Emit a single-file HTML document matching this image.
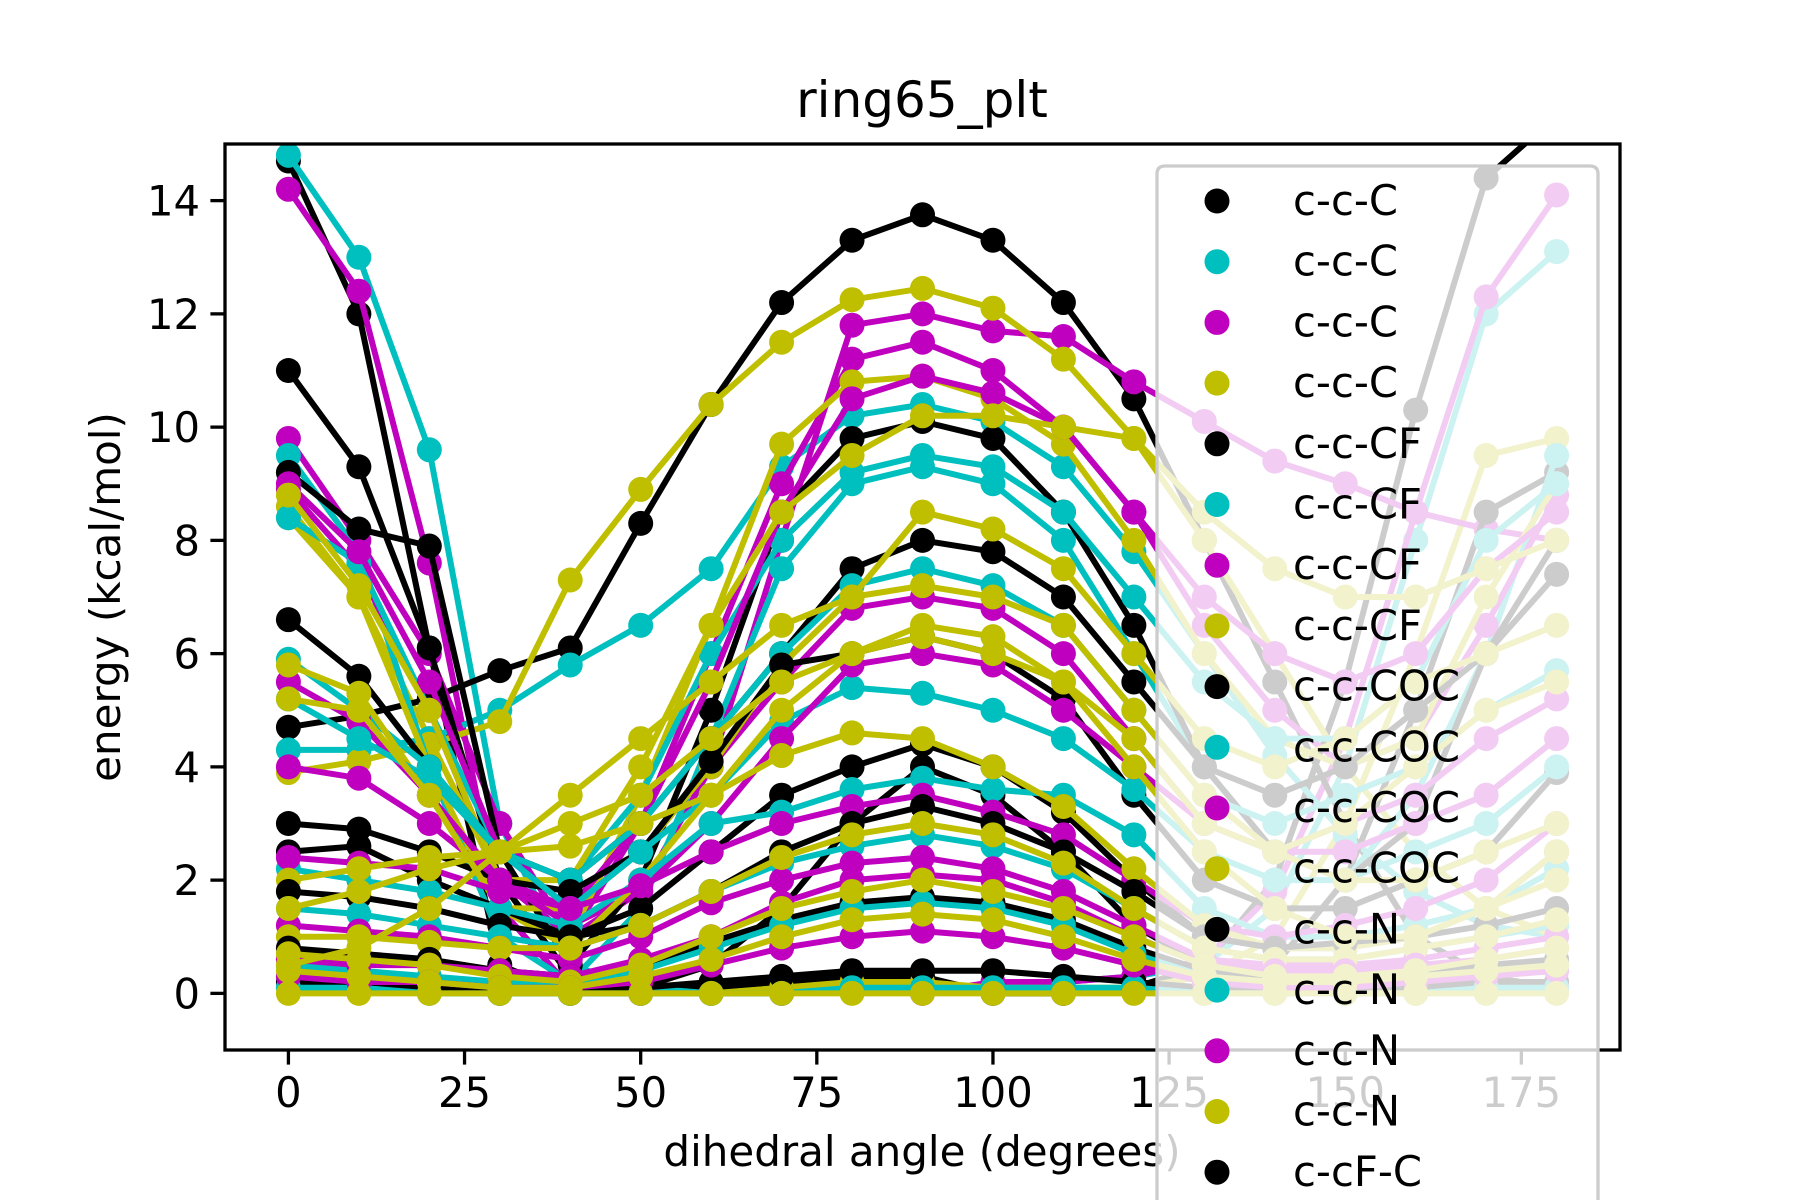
<!DOCTYPE html>
<html><head><meta charset="utf-8"><style>
html,body{margin:0;padding:0;background:#fff;width:1800px;height:1200px;overflow:hidden;}
svg{display:block;font-family:"DejaVu Sans","Liberation Sans",sans-serif;}
</style></head><body>
<svg id="chart" width="1800" height="1200" viewBox="0 0 1800 1200" xmlns="http://www.w3.org/2000/svg">
<rect width="1800" height="1200" fill="#fff"/>
<defs><clipPath id="plotclip"><rect x="225" y="144" width="1395" height="906"/></clipPath></defs>
<text x="922" y="117" font-size="50" text-anchor="middle">ring65_plt</text>
<g id="series" clip-path="url(#plotclip)"></g>
<g id="axes"></g>
<text x="922" y="1166" font-size="42" text-anchor="middle">dihedral angle (degrees)</text>
<text x="0" y="0" font-size="42" text-anchor="middle" transform="translate(120,597) rotate(-90)">energy (kcal/mol)</text>
<g id="legend"></g>
</svg>
<script>
const angles = [0,10,20,30,40,50,60,70,80,90,100,110,120,130,140,150,160,170,180];
const xTicks = [0,25,50,75,100,125,150,175];
const yTicks = [0,2,4,6,8,10,12,14];
const legendLabels = ["c-c-C","c-c-C","c-c-C","c-c-C","c-c-CF","c-c-CF","c-c-CF","c-c-CF","c-c-COC","c-c-COC","c-c-COC","c-c-COC","c-c-N","c-c-N","c-c-N","c-c-N","c-cF-C"];
const legendColors = ["#000","#00bfbf","#bf00bf","#bfbf00","#000","#00bfbf","#bf00bf","#bfbf00","#000","#00bfbf","#bf00bf","#bfbf00","#000","#00bfbf","#bf00bf","#bfbf00","#000"];
const seriesColors = ["#000","#00bfbf","#bf00bf","#bfbf00"];
const k1 = [14.7,12.0,6.1,0.5,0.0,0.0,0.1,0.2,0.3,0.3,0.0,0.0,0.1,0.5,2.0,5.5,10.3,14.4,15.5];
const c1 = [14.8,13.0,9.6,3.0,0.5,0.1,0.0,0.0,0.1,0.1,0.1,0.2,0.3,0.5,1.5,4.0,8.0,12.0,13.1];
const m1 = [14.2,12.4,7.6,1.5,0.1,0.0,0.0,0.0,0.1,0.0,0.2,0.2,0.3,0.6,1.8,4.5,8.5,12.3,14.1];
const y1 = [8.6,7.0,4.5,2.0,0.3,0.0,0.0,0.1,0.2,0.2,0.1,0.1,0.1,0.3,1.0,3.0,6.0,9.5,9.8];
const k2 = [4.7,4.9,5.2,5.7,6.1,8.3,10.4,12.2,13.3,13.75,13.3,12.2,10.5,8.0,5.5,3.0,1.0,0.3,0.1];
const c2 = [4.3,4.3,4.5,5.0,5.8,6.5,7.5,9.3,10.2,10.4,10.1,9.3,7.8,6.0,4.2,2.8,1.8,1.2,1.0];
const m2 = [9.8,8.0,6.0,3.0,1.0,1.8,4.0,8.0,11.8,12.0,11.7,11.6,10.8,10.1,9.4,9.0,8.5,8.2,8.0];
const y2 = [3.9,4.1,4.4,4.8,7.3,8.9,10.4,11.5,12.25,12.45,12.1,11.2,9.8,8.0,6.0,4.0,2.5,1.5,1.0];
const k3 = [11.0,9.3,6.1,2.0,0.3,0.1,0.5,1.5,3.0,4.0,3.5,2.5,1.2,0.5,0.5,2.0,5.0,8.5,9.2];
const c3 = [9.5,7.8,4.0,1.0,0.2,1.5,4.5,7.5,9.0,9.3,9.0,8.0,6.0,4.0,2.5,2.0,3.5,6.0,9.5];
const m3 = [8.9,7.5,5.0,2.0,1.0,3.0,6.0,9.0,11.2,11.5,11.0,10.0,8.5,6.5,5.0,4.0,4.5,6.5,8.8];
const y3 = [8.4,7.0,4.0,1.5,1.0,3.5,6.5,9.7,10.8,10.9,10.5,9.7,8.0,6.0,4.5,4.0,4.5,7.0,9.0];
const k4 = [9.2,8.2,7.9,2.5,0.5,2.0,5.0,8.5,9.8,10.1,9.8,8.5,6.5,4.0,2.5,2.0,3.0,6.0,8.0];
const c4 = [8.4,7.6,5.0,2.5,2.0,3.5,6.0,8.0,9.2,9.5,9.3,8.5,7.0,5.5,4.5,4.5,5.5,8.0,9.0];
const m4 = [9.0,7.8,5.5,2.5,1.5,3.0,5.5,8.5,10.5,10.9,10.6,10.0,8.5,7.0,6.0,5.5,6.0,7.5,8.5];
const y4 = [8.8,7.2,5.0,2.0,2.0,4.0,6.5,8.5,9.5,10.2,10.2,10.0,9.8,8.5,7.5,7.0,7.0,7.5,8.0];
const k5 = [6.6,5.6,4.0,2.5,2.0,3.0,4.5,6.0,7.5,8.0,7.8,7.0,5.5,4.0,3.5,4.0,5.0,6.0,7.4];
const c5 = [5.9,5.0,4.0,2.5,2.0,3.0,4.5,6.0,7.2,7.5,7.2,6.5,5.0,3.5,3.0,3.5,4.0,5.0,5.7];
const m5 = [5.5,4.8,3.5,2.0,1.5,2.5,4.0,5.5,6.8,7.0,6.8,6.0,4.5,3.0,2.5,3.0,3.5,4.5,5.2];
const y5 = [5.8,5.3,3.5,1.5,1.5,2.5,4.0,5.8,7.0,8.5,8.2,7.5,6.0,4.5,4.0,4.5,5.5,6.0,6.5];
const k6 = [3.0,2.9,2.5,2.0,1.8,2.5,4.1,5.8,6.0,6.3,6.0,5.2,3.5,2.0,1.5,1.5,2.0,2.5,3.9];
const c6 = [5.2,4.5,3.8,2.5,1.5,2.5,3.5,4.8,5.4,5.3,5.0,4.5,3.6,2.5,2.0,2.0,2.5,3.0,4.0];
const m6 = [4.0,3.8,3.0,2.0,1.2,1.8,3.0,4.5,5.8,6.0,5.8,5.0,4.0,3.0,2.5,2.5,3.0,3.5,4.5];
const y6 = [5.2,5.0,3.5,1.5,0.8,2.0,3.5,5.0,6.0,6.5,6.3,5.5,4.5,3.0,2.5,3.0,4.0,5.0,5.5];
const k7 = [2.5,2.6,2.0,1.5,1.0,1.5,2.5,3.5,4.0,4.4,4.0,3.2,2.0,1.0,0.8,0.8,1.0,1.5,2.5];
const c7 = [2.2,2.0,1.8,1.5,1.2,2.0,3.0,3.2,3.6,3.8,3.6,3.5,2.8,1.5,1.0,1.0,1.2,1.5,2.2];
const m7 = [2.4,2.3,2.2,1.8,1.5,1.9,2.5,3.0,3.3,3.5,3.2,2.8,2.0,1.2,1.0,1.2,1.5,2.0,3.0];
const y7 = [2.0,2.2,2.4,2.5,2.6,3.0,3.5,4.2,4.6,4.5,4.0,3.3,2.2,1.2,0.8,0.8,1.0,1.5,2.5];
const k8 = [1.8,1.7,1.5,1.2,1.0,1.2,1.8,2.5,3.0,3.3,3.0,2.5,1.8,1.0,0.8,0.9,1.0,1.2,1.5];
const c8 = [1.5,1.4,1.2,1.0,0.8,1.2,1.8,2.3,2.6,2.8,2.6,2.2,1.5,0.8,0.6,0.6,0.8,1.0,1.2];
const m8 = [1.2,1.1,1.0,0.8,0.6,1.0,1.6,2.0,2.3,2.4,2.2,1.8,1.2,0.6,0.5,0.5,0.6,0.8,1.0];
const y8 = [1.0,1.0,0.9,0.8,0.8,1.2,1.8,2.4,2.8,3.0,2.8,2.3,1.5,0.8,0.6,0.6,0.8,1.0,1.3];
const k9 = [0.8,0.7,0.6,0.4,0.3,0.5,0.9,1.3,1.6,1.7,1.6,1.3,0.8,0.4,0.3,0.3,0.4,0.5,0.6];
const c9 = [0.5,0.4,0.3,0.2,0.2,0.4,0.8,1.2,1.5,1.6,1.5,1.2,0.7,0.3,0.2,0.2,0.3,0.4,0.5];
const m9 = [0.6,0.5,0.5,0.4,0.3,0.6,1.0,1.6,2.0,2.1,2.0,1.6,1.0,0.5,0.4,0.4,0.5,0.6,0.8];
const y9 = [0.7,0.6,0.5,0.3,0.2,0.5,1.0,1.5,1.8,2.0,1.8,1.5,1.0,0.5,0.3,0.3,0.4,0.6,0.8];
const k10 = [0.2,0.1,0.1,0.0,0.0,0.1,0.2,0.3,0.4,0.4,0.4,0.3,0.2,0.1,0.1,0.1,0.1,0.2,0.2];
const c10 = [0.1,0.1,0.0,0.0,0.0,0.0,0.0,0.0,0.1,0.1,0.1,0.1,0.1,0.0,0.0,0.0,0.0,0.1,0.1];
const m10 = [0.3,0.2,0.2,0.1,0.1,0.2,0.5,0.8,1.0,1.1,1.0,0.8,0.5,0.2,0.1,0.1,0.2,0.3,0.4];
const y10 = [0.4,0.3,0.2,0.1,0.1,0.3,0.6,1.0,1.3,1.4,1.3,1.0,0.6,0.3,0.2,0.2,0.3,0.4,0.5];
const y11 = [1.5,1.8,2.2,2.5,3.5,4.5,5.5,6.5,7.0,7.2,7.0,6.5,5.0,3.5,2.5,2.0,2.0,2.5,3.0];
const y12 = [0.5,0.8,1.5,2.5,3.0,3.5,4.5,5.5,6.0,6.3,6.0,5.5,4.0,2.5,1.5,1.0,1.0,1.5,2.0];
const y13 = [0.0,0.0,0.0,0.0,0.0,0.0,0.0,0.0,0.0,0.0,0.0,0.0,0.0,0.0,0.0,0.0,0.0,0.0,0.0];
const allSeries = [k1,c1,m1,y1,k2,c2,m2,y2,k3,c3,m3,y3,k4,c4,m4,y4,k5,c5,m5,y5,k6,c6,m6,y6,k7,c7,m7,y7,k8,c8,m8,y8,k9,c9,m9,y9,k10,c10,m10,y10,y11,y12,y13];
const allColors = allSeries.map((s,i)=> i>=40 ? "#bfbf00" : seriesColors[i%4]);

const NS = "http://www.w3.org/2000/svg";
const L=225,R=1620,T=144,B=1050, XMIN=-9, XMAX=189, YMIN=-1, YMAX=15;
function xs(v){return L+(v-XMIN)/(XMAX-XMIN)*(R-L);}
function ys(v){return B-(v-YMIN)/(YMAX-YMIN)*(B-T);}
function mk(tag,attrs,parent){const e=document.createElementNS(NS,tag);for(const k in attrs)e.setAttribute(k,attrs[k]);parent.appendChild(e);return e;}

const sg=document.getElementById('series');
allSeries.forEach((s,i)=>{
  const g=mk('g',{},sg);
  
  
  const pts=s.map((v,j)=>xs(angles[j]).toFixed(1)+','+ys(v).toFixed(1)).join(' ');
  const pl=mk('polyline',{points:pts,fill:'none',stroke:allColors[i],'stroke-width':6,'stroke-linejoin':'round','stroke-linecap':'square'},g);
  
  
  s.forEach((v,j)=>{
    const c=mk('circle',{cx:xs(angles[j]),cy:ys(v),r:12.5,fill:allColors[i]},g);
    
    
  });
});

const ax=document.getElementById('axes');
const frame=mk('rect',{x:L,y:T,width:R-L,height:B-T,fill:'none',stroke:'#000','stroke-width':3.3},ax);


xTicks.forEach(t=>{
  const x=xs(t);
  const tk=mk('line',{x1:x,y1:B,x2:x,y2:B+14.6,stroke:'#000','stroke-width':3.3},ax);
  
  
  const tx=mk('text',{x:x,y:B+57,'font-size':41.7,'text-anchor':'middle'},ax);
  tx.textContent=t;
  
  
});
yTicks.forEach(t=>{
  const y=ys(t);
  const tk=mk('line',{x1:L-14.6,y1:y,x2:L,y2:y,stroke:'#000','stroke-width':3.3},ax);
  
  
  const tx=mk('text',{x:L-25,y:y+15,'font-size':41.7,'text-anchor':'end'},ax);
  tx.textContent=t;
  
  
});

const lg=document.getElementById('legend');
const box=mk('rect',{x:1157,y:166,width:441,height:1034,fill:'#fff','fill-opacity':0.8},lg);


const border=mk('path',{d:'M1157,1200 L1157,174 Q1157,166 1165,166 L1590,166 Q1598,166 1598,174 L1598,1200',fill:'none',stroke:'#cccccc','stroke-width':3.3},lg);


legendLabels.forEach((lab,i)=>{
  const y=201+i*60.7;
  const g=mk('g',{},lg);
  
  
  const c=mk('circle',{cx:1217,cy:y,r:12.5,fill:legendColors[i]},g);
  
  
  const t=mk('text',{x:1293,y:y+14,'font-size':41.7},g);
  t.textContent=lab;
  
  
});
</script>
</body></html>
